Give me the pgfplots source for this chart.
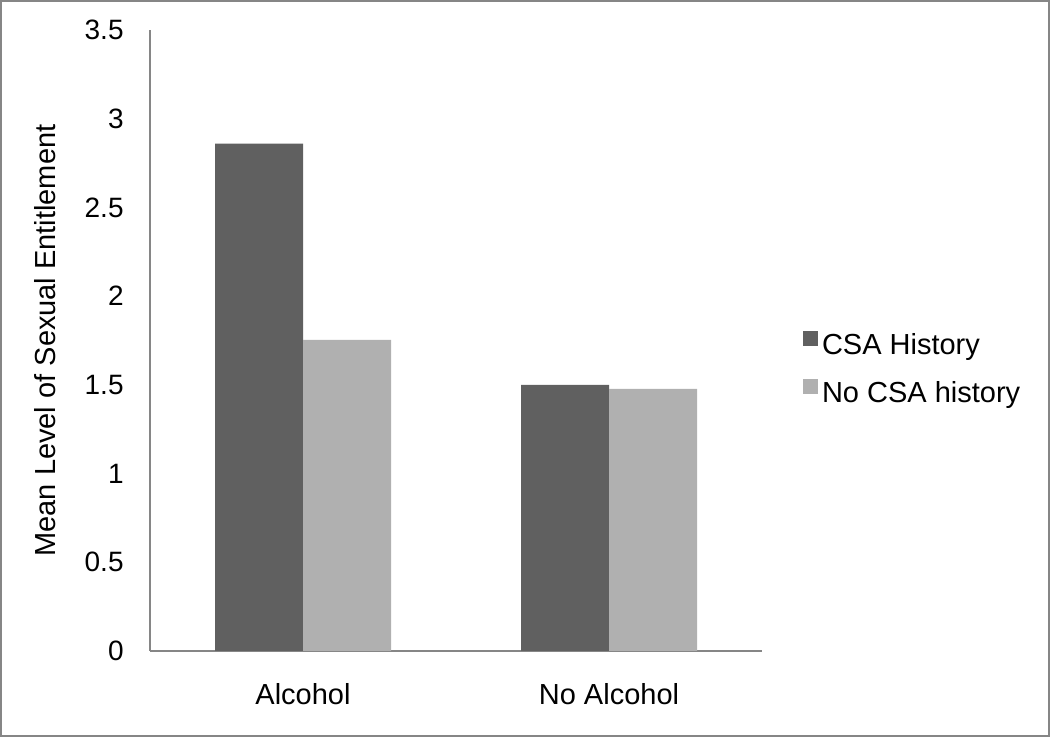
\documentclass[border=0pt]{standalone}
\usepackage{pgfplots}
\pgfplotsset{compat=1.18}
\usepackage{fontspec}
\setmainfont{Liberation Sans}
\definecolor{darkbar}{RGB}{96,96,96}
\definecolor{lightbar}{RGB}{176,176,176}
\definecolor{axgray}{RGB}{134,134,134}
\begin{document}
\begin{tikzpicture}
\useasboundingbox (0,0) rectangle (525pt,368.5pt);
\draw[axgray, line width=1pt] (0.5pt,0.5pt) rectangle (524.5pt,368pt);
\begin{axis}[
  at={(75pt,43pt)}, anchor=south west,
  scale only axis, width=306pt, height=310.5pt,
  xmin=-0.5, xmax=1.5, ymin=0, ymax=3.5,
  axis x line*=bottom, axis y line*=left,
  axis line style={axgray, line width=0.75pt},
  xtick={0,1}, xticklabels={Alcohol, No Alcohol},
  ytick={0,0.5,1,1.5,2,2.5,3,3.5},
  major tick length=0pt,
  /pgf/number format/assume math mode=true,
  y tick label style={font=\fontsize{14}{16}\selectfont, anchor=east, inner sep=0pt, xshift=-13pt},
  x tick label style={font=\fontsize{14.5}{17}\selectfont, anchor=north, inner sep=0pt, yshift=-16pt},
  ylabel={Mean Level of Sexual Entitlement},
  ylabel style={font=\fontsize{14.5}{17}\selectfont, at={(axis description cs:-0.1716,0.5)}, anchor=center, inner sep=0pt},
  ybar=0pt, bar width=44pt,
  legend cell align=left,
  legend image code/.code={\fill[#1] (0pt,0.5pt) rectangle (7.5pt,8pt);},
  legend style={at={(rel axis cs:1,0.453)}, anchor=west, xshift=20.5pt, draw=none, fill=none,
    inner sep=0pt, outer sep=0pt, font=\fontsize{14.5}{17}\selectfont,
    nodes={inner sep=0pt, text height=10pt, text depth=3pt},
    /tikz/row sep=9.5pt, /tikz/column sep=2pt},
]
\addplot[fill=darkbar, draw=none] coordinates {(0,2.86) (1,1.50)};
\addplot[fill=lightbar, draw=none] coordinates {(0,1.753) (1,1.478)};
\legend{CSA History, No CSA history}
\end{axis}
\end{tikzpicture}
\end{document}
